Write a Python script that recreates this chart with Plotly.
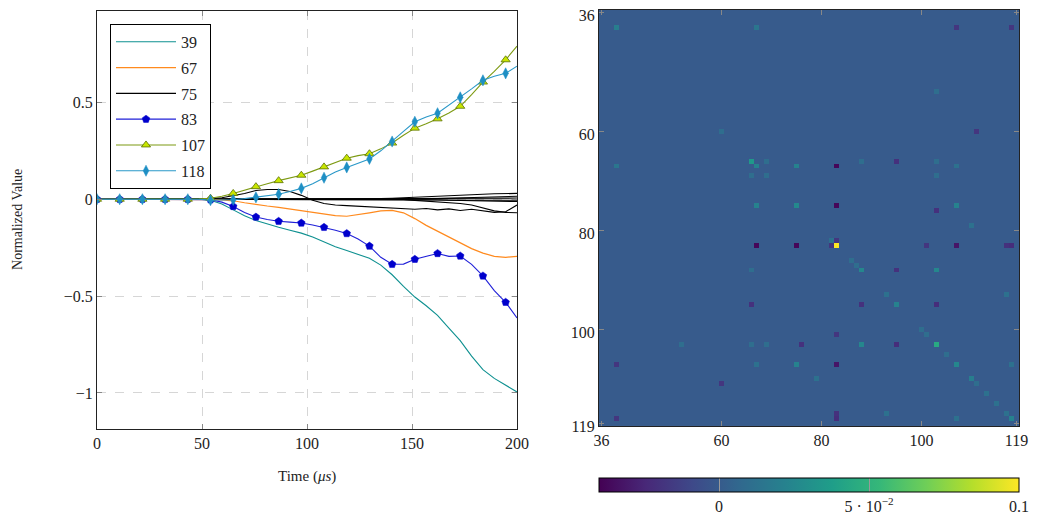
import numpy as np
import plotly.graph_objects as go

# ---------------- data: time series ----------------
time_us = [0, 5.41, 10.81, 16.22, 21.62, 27.03, 32.43, 37.84, 43.24, 48.65,
           54.05, 59.46, 64.86, 70.27, 75.68, 81.08, 86.49, 91.89, 97.30, 102.70,
           108.11, 113.51, 118.92, 124.32, 129.73, 135.14, 140.54, 145.95, 151.35, 156.76,
           162.16, 167.57, 172.97, 178.38, 183.78, 189.19, 194.59, 200]

s39 = [0, 0, 0, 0, 0, 0, 0, 0, 0, 0,
       -0.005, -0.025, -0.055, -0.085, -0.11, -0.128, -0.145, -0.16, -0.175, -0.195,
       -0.22, -0.245, -0.265, -0.285, -0.305, -0.34, -0.39, -0.45, -0.505, -0.55,
       -0.6, -0.665, -0.73, -0.81, -0.88, -0.925, -0.96, -0.995]
s67 = [0, 0, 0, 0, 0, 0, 0, 0, 0, 0,
       -0.002, -0.004, -0.008, -0.018, -0.028, -0.035, -0.042, -0.05, -0.058, -0.066,
       -0.076, -0.085, -0.088, -0.08, -0.07, -0.06, -0.058, -0.07, -0.1, -0.135,
       -0.165, -0.192, -0.225, -0.255, -0.278, -0.295, -0.3, -0.295]
s75 = [0, 0, 0, 0, 0, 0, 0, 0, 0, 0,
       0.003, 0.008, 0.018, 0.03, 0.045, 0.05, 0.05, 0.04, 0.02, -0.005,
       -0.022, -0.03, -0.033, -0.036, -0.04, -0.042, -0.045, -0.05, -0.052, -0.048,
       -0.055, -0.05, -0.058, -0.052, -0.06, -0.068, -0.065, -0.03]
s83 = [0, 0, 0, 0, 0, 0, 0, 0, 0, 0,
       -0.003, -0.015, -0.037, -0.068, -0.092, -0.105, -0.114, -0.118, -0.123, -0.133,
       -0.145, -0.16, -0.177, -0.205, -0.242, -0.3, -0.336, -0.335, -0.31, -0.295,
       -0.28, -0.295, -0.293, -0.336, -0.396, -0.472, -0.532, -0.613]
s107 = [0, 0, 0, 0, 0, 0, 0, 0, 0, 0.002,
        0.005, 0.015, 0.03, 0.048, 0.065, 0.08, 0.096, 0.11, 0.124, 0.145,
        0.167, 0.19, 0.212, 0.225, 0.235, 0.26, 0.29, 0.33, 0.367, 0.39,
        0.415, 0.445, 0.48, 0.54, 0.605, 0.66, 0.72, 0.79]
s118 = [0, 0, 0, 0, 0, 0, 0, 0, 0, 0,
        -0.005, -0.004, -0.003, 0.003, 0.01, 0.018, 0.026, 0.04, 0.056, 0.08,
        0.111, 0.14, 0.164, 0.185, 0.208, 0.25, 0.298, 0.35, 0.4, 0.425,
        0.444, 0.485, 0.526, 0.57, 0.614, 0.635, 0.65, 0.687]

# other (unlabelled) black series
other_a = [0, 0, 0, 0, 0, 0, 0, 0, 0, 0,
           0, 0, 0, 0, 0, 0, 0, 0, 0, 0,
           0, 0, 0, 0, 0, 0.003, 0.005, 0.008, 0.01, 0.012,
           0.015, 0.018, 0.02, 0.023, 0.026, 0.028, 0.03, 0.03]
other_b = [0, 0, 0, 0, 0, 0, 0, 0, 0, 0,
           0, 0, 0, 0, 0, 0, 0, 0, 0, 0,
           0, 0, 0, 0, 0, 0, 0, -0.003, -0.006, -0.01,
           -0.012, -0.018, -0.022, -0.03, -0.045, -0.06, -0.068, -0.07]
other_c = [0, 0, 0, 0, 0, 0, 0, 0, 0, 0,
           0, 0, 0, 0, 0, 0, 0, 0, 0, 0,
           0, 0, 0, 0, 0, 0, 0, 0, 0, 0.002,
           0.004, 0.006, 0.008, 0.01, 0.012, 0.014, 0.015, 0.015]
other_d = [0, 0, 0, 0, 0, 0, 0, 0, 0, 0,
           0, 0, 0, 0, 0, 0, 0, 0, 0, 0,
           0, 0, 0, 0, 0, 0, 0, 0, 0, -0.002,
           -0.003, -0.005, -0.006, -0.008, -0.01, -0.011, -0.012, -0.012]
other_e = [0, 0, 0, 0, 0, 0, 0, 0, 0, 0,
           0, 0, 0, 0, 0, 0, 0, 0, 0, 0,
           0.001, 0.001, 0.002, 0.002, 0.002, 0.003, 0.003, 0.003, 0.004, 0.004,
           0.004, 0.005, 0.005, 0.005, 0.006, 0.006, 0.006, 0.006]
other_f = [0, 0, 0, 0, 0, 0, 0, 0, 0, 0,
           0, 0, 0, 0, 0, 0, 0, 0, 0, 0,
           -0.001, -0.001, -0.002, -0.002, -0.002, -0.003, -0.003, -0.003, -0.004, -0.004,
           -0.004, -0.005, -0.005, -0.005, -0.005, -0.005, -0.005, -0.005]

x_ticks = [0, 50, 100, 150, 200]
y_ticks = [-1, -0.5, 0, 0.5]
y_tick_text = ["\u22121", "\u22120.5", "0", "0.5"]

# ---------------- data: matrix ----------------
idx_first, idx_last = 36, 119
diag_idx = [39, 60, 66, 67, 69, 75, 82, 83, 86, 87, 88, 93, 95, 100, 101, 103,
            105, 107, 110, 111, 113, 115, 117, 118]
diag_val = [0.02, 0.01, 0.035, 0.022, 0.01, 0.026, 0.012, 0.1, 0.01, 0.01, 0.025, 0.012,
            0.022, 0.01, 0.01, 0.045, 0.01, 0.025, 0.02, 0.01, 0.012, 0.012, 0.012, 0.022]
pair_i = [39, 39, 39, 52, 60, 66, 66, 66, 66, 67, 67, 67, 69, 75, 75, 76, 79,
          82, 83, 83, 83, 83, 88, 88, 93, 95, 107]
pair_j = [67, 107, 118, 103, 111, 69, 88, 95, 103, 75, 83, 107, 103, 83, 107, 103, 110,
          83, 101, 107, 117, 118, 95, 103, 117, 103, 118]
pair_val = [0.015, -0.018, -0.018, 0.01, -0.018, 0.01, 0.01, -0.02, 0.01, 0.022, -0.038,
            0.012, 0.01, -0.038, 0.022, -0.02, 0.012, -0.018, -0.018, -0.032, -0.02,
            -0.022, -0.02, 0.025, 0.012, -0.022, 0.012]
heat_ticks = [36, 60, 80, 100, 119]
cbar_ticks = [0, 0.05, 0.1]
cbar_text = ["0", "5 \u00b7 10<sup>\u22122</sup>", "0.1"]

labels = list(range(idx_first, idx_last + 1))
n = len(labels)
Z = np.zeros((n, n))
for k, v in zip(diag_idx, diag_val):
    Z[k - idx_first, k - idx_first] = v
for i, j, v in zip(pair_i, pair_j, pair_val):
    Z[i - idx_first, j - idx_first] = v
    Z[j - idx_first, i - idx_first] = v

# ---------------- figure ----------------
W, H = 1045, 523
OFF = 8  # page body margin
FONT = "Liberation Serif"
CLEAR = "rgba(0,0,0,0)"


def fx(px):
    return (px - OFF) / W


def fy(py):
    return 1 - (py - OFF) / H


def every_other(color, n_pts):
    # marks drawn on every second sample only
    return [color if k % 2 == 0 else CLEAR for k in range(n_pts)]


fig = go.Figure()
npts = len(time_us)

for s in [other_a, other_b, other_c, other_d, other_e, other_f]:
    fig.add_trace(go.Scatter(x=time_us, y=s, mode="lines", showlegend=False,
                             line=dict(color="black", width=1.1), hoverinfo="skip"))

fig.add_trace(go.Scatter(x=time_us, y=s39, mode="lines", name="39", legendgroup="a",
                         line=dict(color="#0e9090", width=1.1)))
fig.add_trace(go.Scatter(x=time_us, y=s67, mode="lines", name="67", legendgroup="b",
                         line=dict(color="#ff8a1e", width=1.2)))
fig.add_trace(go.Scatter(x=time_us, y=s75, mode="lines", name="75", legendgroup="c",
                         line=dict(color="black", width=1.1)))
fig.add_trace(go.Scatter(x=time_us, y=s83, mode="lines+markers", name="83", legendgroup="d",
                         line=dict(color="#2020d8", width=1.1),
                         marker=dict(symbol="pentagon", size=8,
                                     color=every_other("#0000cc", npts),
                                     line=dict(color=every_other("#0000cc", npts), width=0.5))))
fig.add_trace(go.Scatter(x=time_us, y=s107, mode="lines+markers", name="107", legendgroup="e",
                         line=dict(color="#7d9a12", width=1.1),
                         marker=dict(symbol="triangle-up", size=8,
                                     color=every_other("#c8e600", npts),
                                     line=dict(color=every_other("#5a7000", npts), width=0.8))))
fig.add_trace(go.Scatter(x=time_us, y=s118, mode="lines+markers", name="118", legendgroup="f",
                         line=dict(color="#2a98c8", width=1.1),
                         marker=dict(symbol="diamond-tall", size=8,
                                     color=every_other("#1e8fc4", npts),
                                     line=dict(color=every_other("#1e8fc4", npts), width=0.5))))

fig.add_trace(go.Heatmap(
    z=Z, x=labels, y=labels, xaxis="x2", yaxis="y2",
    colorscale="Viridis", zmin=-0.04, zmax=0.1, showlegend=False,
    colorbar=dict(orientation="h", x=fx((599 + 1019) / 2), xanchor="center",
                  y=fy(483), yanchor="top", len=420 / W, lenmode="fraction",
                  thickness=14, outlinecolor="black", outlinewidth=1,
                  xpad=0, ypad=0,
                  tickvals=cbar_ticks, ticktext=cbar_text, ticks="inside",
                  ticklen=14, tickcolor="#999999", tickwidth=1,
                  tickfont=dict(family=FONT, size=16, color="#222")),
))

axis_common = dict(showline=True, linecolor="#222", linewidth=1, mirror="ticks",
                   ticks="inside", ticklen=5, tickcolor="#888", tickwidth=1,
                   zeroline=False, automargin=False, ticklabeloverflow="allow",
                   tickfont=dict(family=FONT, size=16, color="#222"))

fig.update_layout(
    width=W, height=H, template="none",
    margin=dict(l=0, r=0, t=0, b=0),
    paper_bgcolor="white", plot_bgcolor="white",
    font=dict(family=FONT, size=16, color="#222"),
    xaxis=dict(domain=[fx(97), fx(517)], range=[0, 200], tickvals=x_ticks,
               showgrid=True, gridcolor="#d6d6d6", griddash="dash", gridwidth=1,
               **axis_common),
    yaxis=dict(domain=[fy(433), fy(11)], range=[-1.186, 0.972],
               tickvals=y_ticks, ticktext=y_tick_text,
               showgrid=True, gridcolor="#d6d6d6", griddash="dash", gridwidth=1,
               **axis_common),
    xaxis2=dict(domain=[fx(599), fx(1019)], range=[35.5, 119.5], anchor="y2",
                tickvals=heat_ticks, showgrid=False, **axis_common),
    yaxis2=dict(domain=[fy(430), fy(10)], range=[119.5, 35.5], anchor="x2",
                tickvals=heat_ticks, showgrid=False, ticklabelshift=-3, **axis_common),
    legend=dict(x=fx(110), y=fy(24), xanchor="left", yanchor="top",
                bgcolor="white", bordercolor="black", borderwidth=1,
                font=dict(family=FONT, size=16, color="#222"),
                traceorder="grouped", tracegroupgap=2, itemwidth=60),
    annotations=[
        dict(text="Time (<i>\u03bcs</i>)", x=fx(307), y=fy(481), xref="paper", yref="paper",
             showarrow=False, xanchor="center", yanchor="middle",
             font=dict(family=FONT, size=15, color="#222")),
        dict(text="Normalized Value", x=fx(18), y=fy(222), xref="paper", yref="paper",
             showarrow=False, xanchor="center", yanchor="middle", textangle=-90,
             font=dict(family=FONT, size=14, color="#222")),
    ],
)

fig.write_html("out.html")
